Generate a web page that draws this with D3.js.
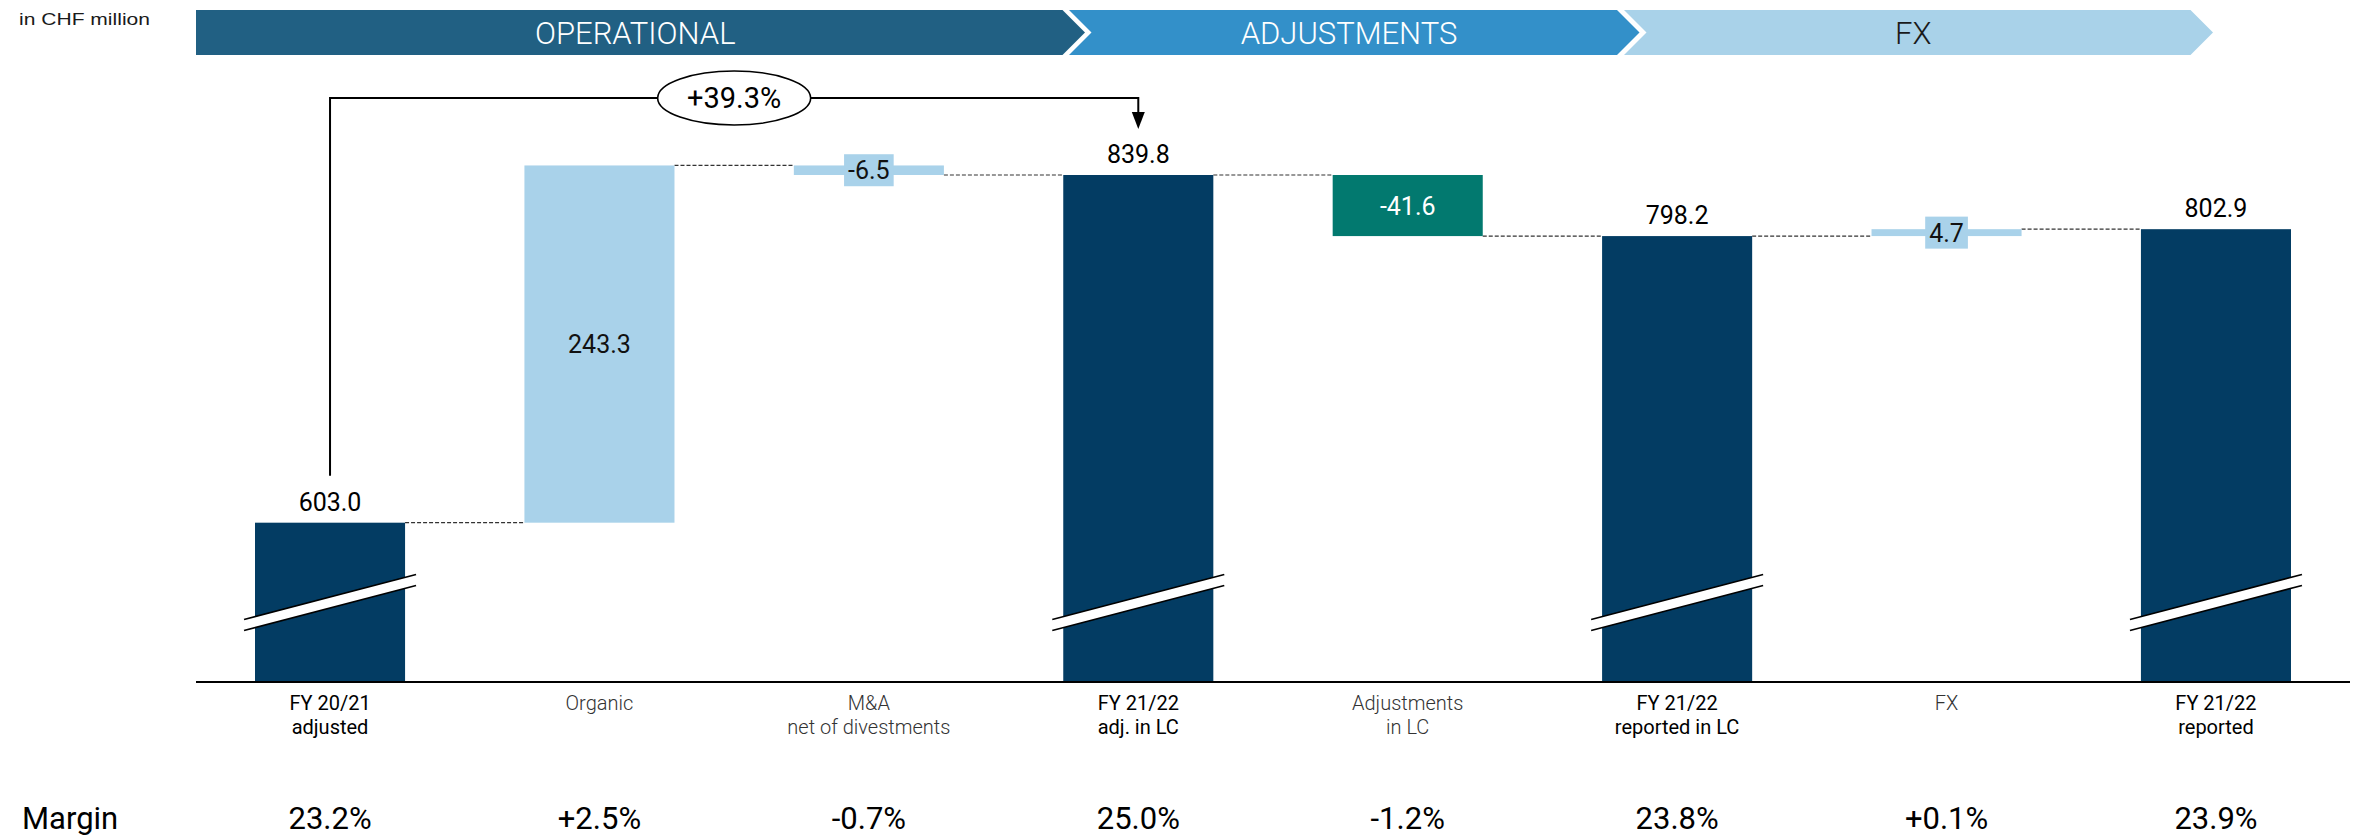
<!DOCTYPE html>
<html>
<head>
<meta charset="utf-8">
<script src="https://cdn.jsdelivr.net/npm/d3@7"></script>
<style>
  body { margin: 0; background: #fff; }
  svg { display: block; font-family: Roboto, "Noto Sans", sans-serif; }
</style>
</head>
<body>
<div id="chart"></div>
<script>
// Data
const CATEGORIES = [
    ["FY 20/21", "adjusted"],
    ["Organic"],
    ["M&A", "net of divestments"],
    ["FY 21/22", "adj. in LC"],
    ["Adjustments", "in LC"],
    ["FY 21/22", "reported in LC"],
    ["FX"],
    ["FY 21/22", "reported"]
];
const VALUES = [603.0, 243.3, -6.5, 839.8, -41.6, 798.2, 4.7, 802.9];
const KINDS = ["total", "delta", "delta", "total", "delta", "total", "delta", "total"];
const BAR_COLORS = ["#033c63", "#a9d2ea", "#a9d2ea", "#033c63", "#02796f", "#033c63", "#a9d2ea", "#033c63"];
const MARGINS = ["23.2%", "+2.5%", "-0.7%", "25.0%", "-1.2%", "23.8%", "+0.1%", "23.9%"];
const PHASES = ["OPERATIONAL", "ADJUSTMENTS", "FX"];
const GROWTH = "+39.3%";

// Layout
const W = 2362, H = 838;
const BASE_Y = 682;
const PHASE_SEGS = [[196, 1062.5], [1069, 1617], [1624, 2190.5]];
const PHASE_FILL = ["#216083", "#3390c9", "#a9d2e9"];
const PHASE_TEXT = ["#fff", "#fff", "#1a1a1a"];

const svg = d3.select("#chart").append("svg").attr("width", W).attr("height", H);

const idx = d3.range(CATEGORIES.length);
const x = d3.scaleBand().domain(idx).range([255, 2291]).paddingInner(0.443).paddingOuter(0);
const y = d3.scaleLinear().domain([494.5, 839.8]).range([BASE_Y, 175]);
const bw = x.bandwidth();

// running totals for the waterfall
let running = 0;
const bars = VALUES.map((v, i) => {
    let lo, hi, end;
    if (KINDS[i] === "total") { running = v; lo = y.domain()[0]; hi = v; end = v; }
    else { const start = running; running += v; lo = Math.min(start, running); hi = Math.max(start, running); end = running; }
    return { i, v, kind: KINDS[i], lo, hi, end, color: BAR_COLORS[i] };
});

// unit note
svg.append("text").attr("x", 19).attr("y", 25).attr("textLength", 131).attr("lengthAdjust", "spacingAndGlyphs")
    .style("font-family", "'Liberation Sans', Arial, sans-serif").style("font-size", "16.5px").attr("fill", "#1a1a1a")
    .text("in CHF million");

// phase banner (chevrons)
const bTop = 10, bBot = 55, bMid = 32.5, tip = 22.5;
PHASES.forEach((p, k) => {
    const [x0, x1] = PHASE_SEGS[k];
    const pts = [[x0, bTop], [x1, bTop], [x1 + tip, bMid], [x1, bBot], [x0, bBot]];
    if (k > 0) pts.push([x0 + tip, bMid]);
    svg.append("path").attr("d", "M" + pts.map(d => d.join(",")).join("L") + "Z").attr("fill", PHASE_FILL[k]);
    svg.append("text").attr("x", (x0 + x1) / 2 + 6).attr("y", 44).attr("text-anchor", "middle")
        .style("font-size", "31px").style("font-weight", 300).attr("fill", PHASE_TEXT[k]).text(p);
});

// connectors
bars.slice(0, -1).forEach(b => {
    svg.append("line")
        .attr("x1", x(b.i) + bw).attr("x2", x(b.i + 1))
        .attr("y1", y(b.end)).attr("y2", y(b.end))
        .attr("stroke", "#333").attr("stroke-width", 1.2).attr("stroke-dasharray", "4,2");
});

// bars
svg.selectAll("rect.bar").data(bars).enter().append("rect").attr("class", "bar")
    .attr("x", d => x(d.i)).attr("width", bw)
    .attr("y", d => y(d.hi)).attr("height", d => y(d.lo) - y(d.hi))
    .attr("fill", d => d.color);

// axis breaks on the total bars
bars.filter(d => d.kind === "total").forEach(d => {
    const cx = x(d.i) + bw / 2, half = 86;
    const up = [[cx - half, 619.5], [cx + half, 574.5]];
    const dn = [[cx - half, 630.5], [cx + half, 585.5]];
    svg.append("path").attr("d", `M${up[0]}L${up[1]}L${dn[1]}L${dn[0]}Z`).attr("fill", "#fff");
    [up, dn].forEach(l => svg.append("line")
        .attr("x1", l[0][0]).attr("y1", l[0][1]).attr("x2", l[1][0]).attr("y2", l[1][1])
        .attr("stroke", "#000").attr("stroke-width", 1.6));
});

// baseline
svg.append("line").attr("x1", 196).attr("x2", 2350).attr("y1", BASE_Y).attr("y2", BASE_Y)
    .attr("stroke", "#000").attr("stroke-width", 2.2);

// value labels
bars.forEach(d => {
    const cx = x(d.i) + bw / 2;
    const txt = d.v.toFixed(1);
    if (d.kind === "total") {
        svg.append("text").attr("x", cx).attr("y", y(d.hi) - 12).attr("text-anchor", "middle")
            .style("font-size", "25px").attr("fill", "#000").text(txt);
        return;
    }
    const top = y(d.hi), bot = y(d.lo), mid = (top + bot) / 2;
    if (bot - top > 40) {
        svg.append("text").attr("x", cx).attr("y", mid).attr("dy", "0.36em").attr("text-anchor", "middle")
            .style("font-size", "25px").attr("fill", d.color === "#02796f" ? "#fff" : "#111").text(txt);
    } else {
        const g = svg.append("g");
        const t = g.append("text").attr("x", cx).attr("y", mid).attr("dy", "0.36em").attr("text-anchor", "middle")
            .style("font-size", "25px").attr("fill", "#111").text(txt);
        const bb = t.node().getBBox();
        g.insert("rect", "text").attr("x", cx - bb.width / 2 - 4).attr("width", bb.width + 8)
            .attr("y", mid - 16).attr("height", 32).attr("fill", d.color);
    }
});

// growth bracket from first to fourth bar
const gx0 = x(0) + bw / 2, gx1 = x(3) + bw / 2, gy = 98;
svg.append("path")
    .attr("d", `M${gx0},${y(VALUES[0]) - 47}V${gy}H${gx1}V${y(VALUES[3]) - 62}`)
    .attr("fill", "none").attr("stroke", "#000").attr("stroke-width", 2);
svg.append("path")
    .attr("d", `M${gx1 - 6.5},${y(VALUES[3]) - 63}L${gx1 + 6.5},${y(VALUES[3]) - 63}L${gx1},${y(VALUES[3]) - 46}Z`)
    .attr("fill", "#000");
svg.append("ellipse").attr("cx", (gx0 + gx1) / 2).attr("cy", gy).attr("rx", 76.5).attr("ry", 27)
    .attr("fill", "#fff").attr("stroke", "#000").attr("stroke-width", 1.6);
svg.append("text").attr("x", (gx0 + gx1) / 2).attr("y", gy).attr("dy", "0.36em").attr("text-anchor", "middle")
    .style("font-size", "29px").attr("fill", "#000").text(GROWTH);

// category labels
CATEGORIES.forEach((lines, i) => {
    const total = KINDS[i] === "total";
    const t = svg.append("text").attr("x", x(i) + bw / 2).attr("y", 710).attr("text-anchor", "middle")
        .style("font-size", "20px").style("font-weight", total ? 400 : 300).attr("fill", total ? "#000" : "#333");
    lines.forEach((l, j) => t.append("tspan").attr("x", x(i) + bw / 2).attr("y", 710 + j * 24).text(l));
});

// margin row
svg.append("text").attr("x", 22).attr("y", 829).style("font-size", "31px").attr("fill", "#000").text("Margin");
MARGINS.forEach((m, i) => {
    svg.append("text").attr("x", x(i) + bw / 2).attr("y", 829).attr("text-anchor", "middle")
        .style("font-size", "31px").attr("fill", "#000").text(m);
});
</script>
</body>
</html>
